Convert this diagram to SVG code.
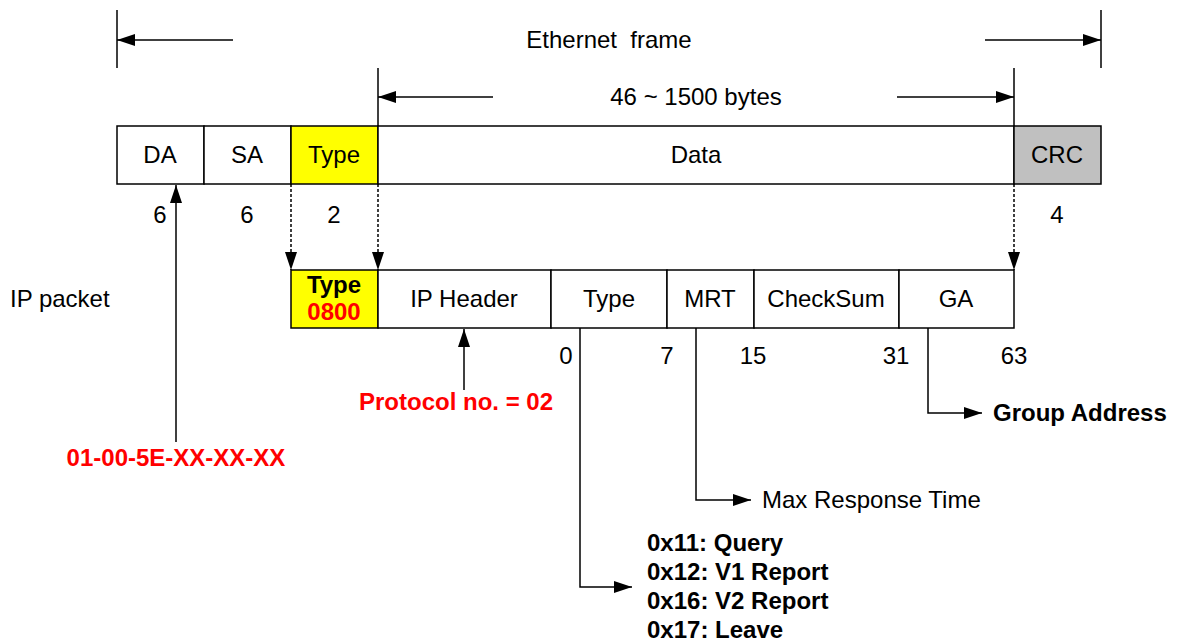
<svg xmlns="http://www.w3.org/2000/svg" width="1179" height="644" viewBox="0 0 1179 644">
<style>
text{font-family:"Liberation Sans",Arial,sans-serif;font-size:24px;fill:#000}
.c{text-anchor:middle}
.b{font-weight:bold}
.r{fill:#ff0000}
.box{stroke:#000;stroke-width:1.5;fill:#fff}
.ln{stroke:#000;stroke-width:1.5;fill:none}
.dot{stroke:#000;stroke-width:1.5;fill:none;stroke-dasharray:3 2}
</style>
<defs>
<marker id="ah" markerUnits="userSpaceOnUse" markerWidth="18" markerHeight="12" refX="18" refY="6" orient="auto">
<path d="M0,0 L18,6 L0,12 z" fill="#000"/>
</marker>
</defs>
<rect width="1179" height="644" fill="#fff"/>
<g id="connectors">
<line class="ln" x1="117" y1="10" x2="117" y2="68"/>
<line class="ln" x1="1101" y1="10" x2="1101" y2="68"/>
<line class="ln" x1="233" y1="40" x2="117" y2="40" marker-end="url(#ah)"/>
<line class="ln" x1="985" y1="40" x2="1101" y2="40" marker-end="url(#ah)"/>
<line class="ln" x1="378" y1="68" x2="378" y2="126"/>
<line class="ln" x1="1014" y1="68" x2="1014" y2="126"/>
<line class="ln" x1="493" y1="97" x2="378" y2="97" marker-end="url(#ah)"/>
<line class="ln" x1="897" y1="97" x2="1014" y2="97" marker-end="url(#ah)"/>
<line class="dot" x1="291" y1="184" x2="291" y2="270" marker-end="url(#ah)"/>
<line class="dot" x1="378" y1="184" x2="378" y2="270" marker-end="url(#ah)"/>
<line class="dot" x1="1014" y1="184" x2="1014" y2="270" marker-end="url(#ah)"/>
<line class="ln" x1="176" y1="442" x2="176" y2="185" marker-end="url(#ah)"/>
<line class="ln" x1="464" y1="390" x2="464" y2="329" marker-end="url(#ah)"/>
<polyline class="ln" points="580,328 580,587 632,587" marker-end="url(#ah)"/>
<polyline class="ln" points="696,328 696,500 751,500" marker-end="url(#ah)"/>
<polyline class="ln" points="928,328 928,413 982,413" marker-end="url(#ah)"/>
</g>
<g id="frame-labels">
<text class="c" x="609" y="48" xml:space="preserve">Ethernet  frame</text>
<text class="c" x="696" y="105">46 ~ 1500 bytes</text>
</g>
<g id="eth-DA"><rect class="box" x="117" y="126" width="87" height="58"/><text class="c" x="160" y="163">DA</text></g>
<g id="eth-SA"><rect class="box" x="204" y="126" width="87" height="58"/><text class="c" x="247" y="163">SA</text></g>
<g id="eth-Type"><rect class="box" x="291" y="126" width="87" height="58" style="fill:#ffff00"/><text class="c" x="334" y="163">Type</text></g>
<g id="eth-Data"><rect class="box" x="378" y="126" width="636" height="58"/><text class="c" x="696" y="163">Data</text></g>
<g id="eth-CRC"><rect class="box" x="1014" y="126" width="87" height="58" style="fill:#c0c0c0"/><text class="c" x="1057" y="163">CRC</text></g>
<g id="eth-sizes">
<text class="c" x="160" y="223">6</text>
<text class="c" x="247" y="223">6</text>
<text class="c" x="334" y="223">2</text>
<text class="c" x="1057" y="223">4</text>
</g>
<g id="ip-label"><text x="10" y="307">IP packet</text></g>
<g id="ip-Type"><rect class="box" x="291" y="270" width="87" height="58" style="fill:#ffff00"/><text class="c b" x="334" y="293">Type</text><text class="c b r" x="334" y="320">0800</text></g>
<g id="ip-Header"><rect class="box" x="378" y="270" width="173" height="58"/><text class="c" x="464" y="307">IP Header</text></g>
<g id="igmp-Type"><rect class="box" x="551" y="270" width="116" height="58"/><text class="c" x="609" y="307">Type</text></g>
<g id="igmp-MRT"><rect class="box" x="667" y="270" width="87" height="58"/><text class="c" x="710" y="307">MRT</text></g>
<g id="igmp-CheckSum"><rect class="box" x="754" y="270" width="145" height="58"/><text class="c" x="826" y="307">CheckSum</text></g>
<g id="igmp-GA"><rect class="box" x="899" y="270" width="115" height="58"/><text class="c" x="956" y="307">GA</text></g>
<g id="bit-offsets">
<text class="c" x="566" y="364">0</text>
<text class="c" x="667" y="364">7</text>
<text class="c" x="753" y="364">15</text>
<text class="c" x="896" y="364">31</text>
<text class="c" x="1014" y="364">63</text>
</g>
<g id="protocol-note"><text class="c b r" x="456" y="410">Protocol no. = 02</text></g>
<g id="mac-note"><text class="c b r" x="176" y="466">01-00-5E-XX-XX-XX</text></g>
<g id="ga-note"><text class="b" x="993" y="421">Group Address</text></g>
<g id="mrt-note"><text x="762" y="508">Max Response Time</text></g>
<g id="type-note">
<text class="b" x="647" y="551">0x11: Query</text>
<text class="b" x="647" y="580">0x12: V1 Report</text>
<text class="b" x="647" y="609">0x16: V2 Report</text>
<text class="b" x="647" y="638">0x17: Leave</text>
</g>
</svg>
